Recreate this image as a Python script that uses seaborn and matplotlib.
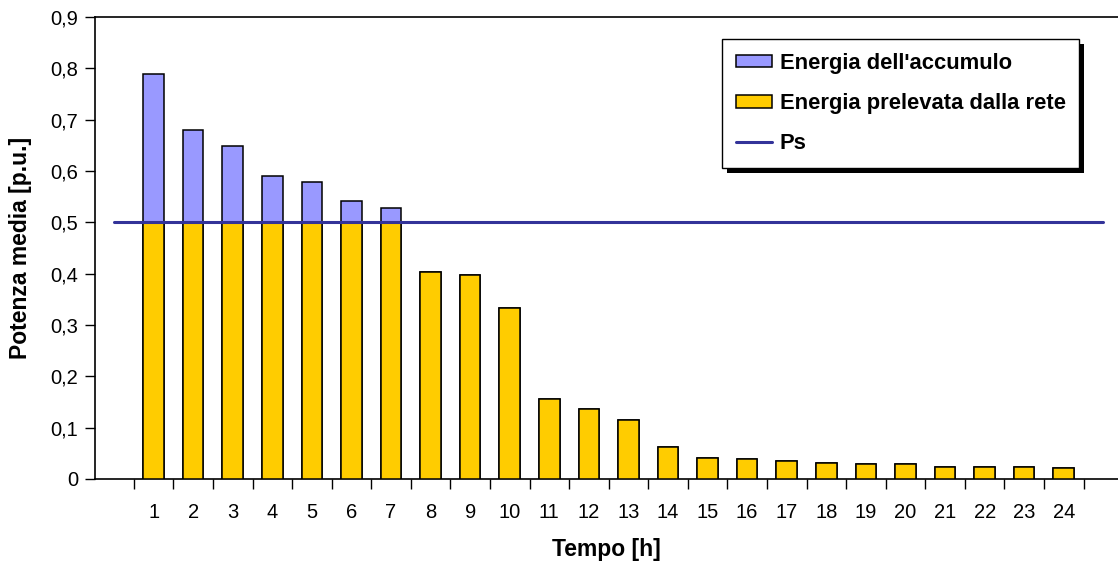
import matplotlib
matplotlib.use("Agg")
import matplotlib.pyplot as plt
from matplotlib.patches import Patch, Rectangle
from matplotlib.lines import Line2D
from matplotlib.ticker import FixedLocator, FuncFormatter
import seaborn as sns
import numpy as np
import pandas as pd

# Hourly average power [p.u.]
hours = list(range(1, 25))
grid_energy = [0.5, 0.5, 0.5, 0.5, 0.5, 0.5, 0.5, 0.403, 0.398, 0.334,
               0.156, 0.137, 0.115, 0.063, 0.041, 0.038, 0.035, 0.032,
               0.030, 0.030, 0.024, 0.024, 0.024, 0.021]
storage_energy = [0.289, 0.179, 0.149, 0.091, 0.079, 0.041, 0.028] + [0.0] * 17
ps_level = 0.5
ps_span = [0, 25]

label_storage = "Energia dell'accumulo"
label_grid = "Energia prelevata dalla rete"
label_ps = "Ps"
x_label = "Tempo [h]"
y_label = "Potenza media [p.u.]"

color_storage = "#9999FF"
color_grid = "#FFCC00"
color_ps = "#333399"

sns.set_theme(style="white")
plt.rcParams["font.family"] = ["Liberation Sans", "DejaVu Sans"]
plt.rcParams["text.color"] = "black"
plt.rcParams["axes.labelcolor"] = "black"

df = pd.DataFrame({
    "hour": hours,
    "grid": grid_energy,
    "storage": storage_energy,
})
df["total"] = df["grid"] + df["storage"]

fig = plt.figure(figsize=(11.18, 5.62), dpi=100)
ax = fig.add_axes([95 / 1118, 1 - 479 / 562, 1 - 95 / 1118, (479 - 17) / 562])

# stacked bars: full height in blue, grid share in yellow over it
sns.barplot(data=df, x="hour", y="total", native_scale=True, width=0.52,
            color=color_storage, saturation=1, edgecolor="black",
            linewidth=1.1, ax=ax, zorder=2)
sns.barplot(data=df, x="hour", y="grid", native_scale=True, width=0.52,
            color=color_grid, saturation=1, edgecolor="black",
            linewidth=1.1, ax=ax, zorder=3)

sns.lineplot(x=ps_span, y=[ps_level, ps_level], color=color_ps,
             linewidth=2.2, ax=ax, zorder=4)

ax.set_xlim(-0.48, 25.37)
ax.set_ylim(0, 0.9)

ax.yaxis.set_major_locator(FixedLocator(np.arange(0, 0.91, 0.1)))
ax.yaxis.set_major_formatter(FuncFormatter(
    lambda v, p: "0" if abs(v) < 1e-9 else f"{v:.1f}".replace(".", ",")))
ax.xaxis.set_major_locator(FixedLocator(hours))
ax.xaxis.set_major_formatter(FuncFormatter(lambda v, p: f"{int(round(v))}"))
ax.xaxis.set_minor_locator(FixedLocator(np.arange(0.5, 25, 1.0)))

ax.tick_params(axis="y", which="major", direction="out", length=7,
               width=1, color="black", left=True, labelsize=14.5, pad=5,
               labelcolor="black")
ax.tick_params(axis="x", which="major", length=0, labelsize=14.5, pad=17,
               labelcolor="black")
ax.tick_params(axis="x", which="minor", direction="out", length=7,
               width=1, color="black", bottom=True)

for side in ["left", "bottom", "top"]:
    ax.spines[side].set_visible(True)
    ax.spines[side].set_color("black")
    ax.spines[side].set_linewidth(1.2)
ax.spines["right"].set_visible(False)

ax.set_xlabel(x_label, fontsize=16.5, fontweight="bold", labelpad=12)
ax.set_ylabel(y_label, fontsize=16.5, fontweight="bold", labelpad=13)

handles = [
    Patch(facecolor=color_storage, edgecolor="black", linewidth=1.1),
    Patch(facecolor=color_grid, edgecolor="black", linewidth=1.1),
    Line2D([0], [0], color=color_ps, linewidth=2.2),
]
leg = ax.legend(handles, [label_storage, label_grid, label_ps],
                loc="upper left", bbox_to_anchor=(0.613, 0.952),
                frameon=True, fancybox=False, framealpha=1,
                edgecolor="black", prop={"size": 15.8, "weight": "bold"},
                handlelength=1.65, handleheight=0.5, handletextpad=0.36,
                labelspacing=0.88, borderpad=0.62, borderaxespad=0)
leg.get_frame().set_linewidth(1.0)
leg.set_zorder(6)

# solid drop shadow behind the legend box
fig.canvas.draw()
bb = leg.get_window_extent()
ax.add_patch(Rectangle((bb.x0 + 5, bb.y0 - 5), bb.width, bb.height,
                       transform=None, facecolor="black", edgecolor="none",
                       zorder=5.5, clip_on=False))

fig.savefig("out.png", dpi=100)
